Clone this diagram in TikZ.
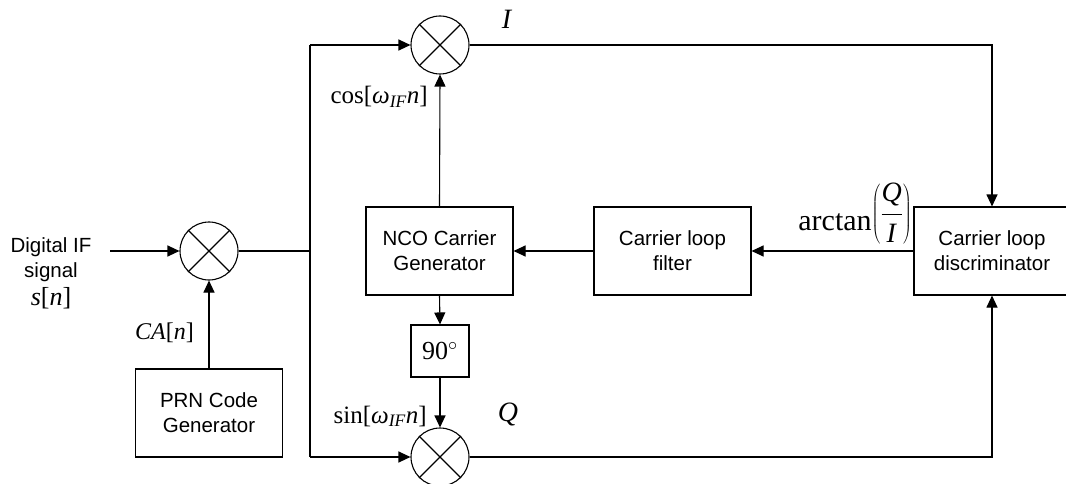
\documentclass[tikz,border=0pt]{standalone}
\usepackage{fix-cm}
\usepackage{fontspec}
\setmainfont{Liberation Serif}
\newfontfamily\arialfont{Liberation Sans}
\usetikzlibrary{arrows.meta,calc}
\begin{document}
\begin{tikzpicture}[x=1pt,y=-1pt,
  every node/.style={inner sep=0pt},
  wire/.style={line width=1.1pt},
  arr/.style={wire,-{Triangle[length=12pt,width=11pt]}},
  blk/.style={draw,line width=1.1pt,minimum width=147pt,minimum height=88pt,align=center,font=\arialfont\fontsize{20.5}{25}\selectfont},
  mixer/.style={draw,circle,line width=1.1pt,minimum size=58pt},
  sans/.style={font=\arialfont\fontsize{20.5}{25}\selectfont,align=center},
  mlbl/.style={font=\fontsize{25}{29}\selectfont},
  biglbl/.style={font=\fontsize{28}{32}\selectfont}
]
\useasboundingbox (0,0) rectangle (1066,484);

% mixers
\node[mixer] (mixA) at (209,251) {};
\node[mixer] (mixI) at (440,45) {};
\node[mixer] (mixQ) at (440,457) {};
\foreach \m in {mixA,mixI,mixQ}{
  \draw[wire] (\m.north east) -- (\m.south west) (\m.north west) -- (\m.south east);
}

% blocks
\node[blk] (prn) at (209,413) {PRN Code\\Generator};
\node[blk] (nco) at (439.5,251) {NCO Carrier\\Generator};
\node[blk,minimum width=157pt] (filt) at (672.5,251) {Carrier loop\\filter};
\node[blk,minimum width=156pt] (disc) at (992,251) {Carrier loop\\discriminator};
\node[draw,line width=1.1pt,minimum width=58pt,minimum height=52pt,font=\fontsize{26}{30}\selectfont] (ph) at (440,351) {90$^{\circ}$};

% coordinates
\coordinate (in) at (110,251);
\coordinate (busT) at (310,45);
\coordinate (busB) at (310,457);

% connectors
\draw[arr] (in) -- (mixA.west);
\draw[arr] (prn.north) -- (mixA.south);
\draw[wire] (mixA.east) -- (mixA.east -| busT);
\draw[wire] (busT) -- (busB);
\draw[arr] (busT) -- (mixI.west);
\draw[arr] (busB) -- (mixQ.west);
\draw[arr] (nco.north) -- (mixI.south);
\draw[arr] (nco.south) -- (ph.north);
\draw[arr] (ph.south) -- (mixQ.north);
\draw[arr] (mixI.east) -| (disc.north);
\draw[arr] (mixQ.east) -| (disc.south);
\draw[arr] (disc.west) -- (filt.east);
\draw[arr] (filt.west) -- (nco.east);

% labels
\node[sans,anchor=north] (inlbl) at (51,237) {Digital IF\\signal\\[3pt]{\rmfamily\fontsize{26}{28}\selectfont\textit{s}[\textit{n}]}};
\node[mlbl,anchor=base east,font=\fontsize{24}{28}\selectfont] (calbl) at (194,339) {\textit{CA}[\textit{n}]};
\node[mlbl,anchor=base east] (coslbl) at (428,104) {cos[\textit{ω}\textsubscript{\textit{IF}}\textit{n}]};
\node[mlbl,anchor=base east] (sinlbl) at (427,423) {sin[\textit{ω}\textsubscript{\textit{IF}}\textit{n}]};
\node[biglbl,anchor=base] (ilbl) at (507,29) {\textit{I}};
\node[biglbl,anchor=base] (qlbl) at (508,421) {\textit{Q}};
\node[anchor=base east,font=\fontsize{30}{36}\selectfont] (atan) at (912,230)
  {arctan\raisebox{8pt}{$\displaystyle\left(\frac{\mbox{\fontsize{28}{30}\selectfont\textit{Q}}}{\mbox{\fontsize{28}{30}\selectfont\textit{I}}}\right)$}};
\end{tikzpicture}
\end{document}
